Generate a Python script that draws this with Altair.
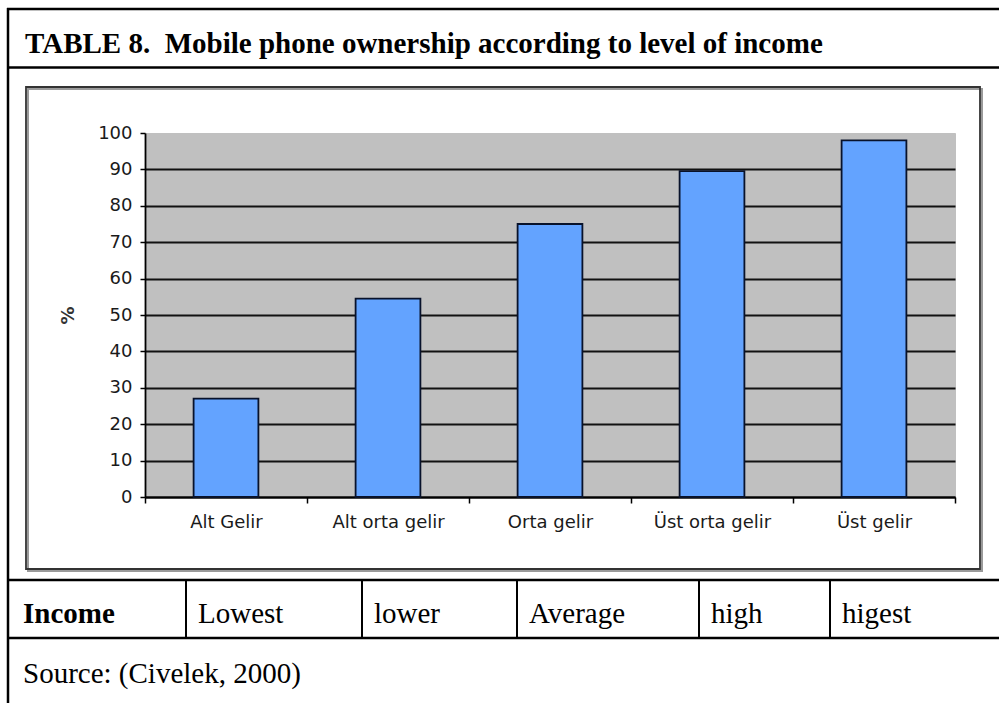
import altair as alt
import pandas as pd

# ---- data ----
categories = ["Alt Gelir", "Alt orta gelir", "Orta gelir", "Üst orta gelir", "Üst gelir"]
ownership = [27, 54.5, 75, 89.5, 98]
y_ticks = [0, 10, 20, 30, 40, 50, 60, 70, 80, 90, 100]
row_labels = ["Income", "Lowest", "lower", "Average", "high", "higest"]
title_text = "TABLE 8.\u00a0 Mobile phone ownership according to level of income"
source_text = "Source: (Civelek, 2000)"
y_title = "%"

# ---- layout (page pixels) ----
PX, PY = 145, 133          # plot-area origin on the page
PW, PH = 810, 364          # plot-area size
PAGE_W, PAGE_H = 999, 703
col_left = [8, 186, 362, 517, 699, 830]
SERIF = "Liberation Serif"
SANS = "DejaVu Sans"


def px(x):
    return x - PX


def py(y):
    return y - PY


one = alt.Data(values=[{"k": 1}])


def hline(y, x1, x2, w=2.5, color="black"):
    return alt.Chart(one).mark_rule(color=color, strokeWidth=w).encode(
        x=alt.value(px(x1)), x2=alt.value(px(x2)), y=alt.value(py(y)))


def vline(x, y1, y2, w=2.0, color="black"):
    return alt.Chart(one).mark_rule(color=color, strokeWidth=w).encode(
        x=alt.value(px(x)), y=alt.value(py(y1)), y2=alt.value(py(y2)))


def label(txt, x, y, size=29, bold=False):
    return alt.Chart(one).mark_text(
        font=SERIF, fontSize=size, fontWeight="bold" if bold else "normal",
        align="left", baseline="alphabetic", color="black").encode(
        x=alt.value(px(x)), y=alt.value(py(y)), text=alt.value(txt))


df = pd.DataFrame({"cat": categories, "val": ownership})

bars = alt.Chart(df).mark_bar(
    color="#63A3FF", stroke="#08122B", strokeWidth=1.8,
    width=alt.RelativeBandSize(0.4)
).encode(
    x=alt.X("cat:N", sort=categories,
            scale=alt.Scale(paddingInner=0, paddingOuter=0),
            axis=alt.Axis(title=None, labelAngle=0, tickBand="extent",
                          domainColor="black", domainWidth=1.8,
                          tickColor="black", tickWidth=1.5, tickSize=6,
                          labelFont=SANS, labelFontSize=18, labelColor="#1a1a1a",
                          labelPadding=10, grid=False)),
    y=alt.Y("val:Q", scale=alt.Scale(domain=[0, 100], nice=False),
            axis=alt.Axis(values=y_ticks, title=y_title,
                          titleFont=SANS, titleFontSize=18, titleFontWeight="bold",
                          titleColor="#333333", titleX=-77, titleY=PH / 2,
                          titleAngle=270, titleBaseline="middle",
                          domainColor="black", domainWidth=1.8,
                          tickColor="black", tickWidth=1.5, tickSize=5,
                          labelFont=SANS, labelFontSize=18, labelColor="#1a1a1a",
                          labelPadding=8,
                          grid=True, gridColor="#111111", gridWidth=2,
                          gridOpacity={"condition": {"test": "datum.value >= 100", "value": 0},
                                       "value": 1})),
)

# chart frame (page coords 26..980 x 87..569)
frame_shadow = alt.Chart(one).mark_rect(filled=False, stroke="#9a9a9a", strokeWidth=2).encode(
    x=alt.value(px(28)), x2=alt.value(px(982)), y=alt.value(py(89)), y2=alt.value(py(571)))
frame = alt.Chart(one).mark_rect(filled=False, stroke="#333333", strokeWidth=1.8).encode(
    x=alt.value(px(26)), x2=alt.value(px(980)), y=alt.value(py(87)), y2=alt.value(py(569)))

layers = [frame_shadow, frame, bars]

# table lines
layers += [
    hline(9, 7, PAGE_W + 5),
    vline(8, 8, PAGE_H + 5, w=2.5),
    hline(67.5, 7, PAGE_W + 5),
    hline(580, 7, PAGE_W + 5),
    hline(638, 7, PAGE_W + 5),
]
for cx in col_left[1:]:
    layers.append(vline(cx, 580, 638, w=2.0))

# texts
layers.append(label(title_text, 25, 53, size=29, bold=True))
for i, (lab, cx) in enumerate(zip(row_labels, col_left)):
    layers.append(label(lab, cx + (15 if i == 0 else 12), 623, size=29, bold=(i == 0)))
layers.append(label(source_text, 23, 683, size=29))

chart = alt.layer(*layers).properties(
    width=PW, height=PH,
    padding={"left": PX, "top": PY, "right": PAGE_W - PX - PW, "bottom": PAGE_H - PY - PH},
    autosize=alt.AutoSizeParams(type="none"),
    background="white",
).configure_view(fill="#C0C0C0", stroke="#C0C0C0")

chart.save("out.html", embed_options={"renderer": "svg", "actions": False})
